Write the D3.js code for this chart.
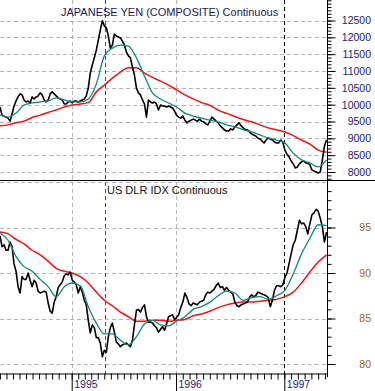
<!DOCTYPE html>
<html>
<head>
<meta charset="utf-8">
<script src="https://cdn.jsdelivr.net/npm/d3@7"></script>
<style>
  body { margin: 0; background: #fff; }
  svg { display: block; font-family: "Liberation Sans", Arial, sans-serif; }
</style>
</head>
<body>
<svg width="375" height="391"></svg>
<script>
// weekly closes, first week at startYear
const startYear = 1994.313;
const endYear = 1997.399;
const weekStep = 1 / 52;

const yenClose = [
  9930, 9690, 9660, 9630, 9600, 9510, 9720, 9960, 10110, 10230,
  10320, 10290, 10140, 10080, 10110, 10050, 10230, 10170, 10230, 10260,
  10350, 10290, 10140, 10080, 10140, 10320, 10380, 10320, 10260, 10200,
  10170, 10140, 10020, 10020, 10080, 10110, 10050, 10110, 10110, 10080,
  10110, 10140, 10170, 10260, 10500, 10940, 11180, 11390, 11620, 11920,
  12220, 12490, 12340, 12280, 12040, 11680, 11770, 12100, 12040, 12010,
  11980, 11890, 11770, 11560, 11450, 11390, 11120, 10880, 10500, 10350,
  10290, 10140, 10020, 9630, 10140, 10080, 10050, 10080, 10020, 9840,
  9990, 9960, 9960, 9930, 9960, 9930, 9900, 9810, 9690, 9630,
  9600, 9660, 9540, 9460, 9510, 9540, 9570, 9540, 9510, 9570,
  9510, 9490, 9430, 9400, 9510, 9630, 9570, 9510, 9460, 9370,
  9310, 9250, 9220, 9220, 9280, 9250, 9340, 9400, 9460, 9370,
  9310, 9250, 9250, 9190, 9130, 9100, 9070, 9010, 8980, 8920,
  8860, 8950, 9010, 8980, 8950, 8890, 8860, 8860, 8950, 8890,
  8650, 8530, 8450, 8330, 8240, 8120, 8150, 8240, 8300, 8330,
  8270, 8270, 8210, 8060, 8030, 8000, 7970, 8000, 8360, 8770,
  8950
];

const dxyClose = [
  94.1, 92.9, 93.1, 92.5, 92.5, 93.4, 92.9, 91.0, 90.2, 88.5,
  87.8, 89.6, 89.3, 89.3, 90.0, 89.2, 88.5, 89.2, 88.9, 88.0,
  87.8, 87.9, 88.0, 87.9, 86.7, 85.8, 85.6, 86.8, 87.4, 88.4,
  88.7, 89.0, 89.7, 89.9, 89.8, 90.1, 89.2, 89.0, 88.7, 87.8,
  88.5, 87.9, 87.0, 86.5, 84.8, 83.4, 84.3, 84.0, 82.9, 82.9,
  82.3, 80.8, 81.5, 81.3, 83.0, 84.0, 84.5, 83.5, 82.4, 82.2,
  81.9, 82.1, 82.2, 82.3, 82.1, 81.9, 82.6, 84.3, 85.9, 86.0,
  85.7, 86.2, 86.5, 85.2, 84.6, 84.6, 84.5, 84.2, 84.0, 83.5,
  83.8, 84.1, 83.7, 84.4, 85.2, 85.3, 85.4, 84.9, 85.1, 85.4,
  86.2, 86.8, 87.8, 87.3, 86.6, 86.4, 86.7, 86.6, 86.5, 86.8,
  86.9, 87.0, 87.6, 87.9, 87.8, 88.0, 88.2, 88.6, 88.9, 88.4,
  88.5, 88.1, 88.4, 88.1, 87.9, 87.7, 86.8, 86.4, 86.3, 86.5,
  86.6, 86.7, 86.8, 87.3, 87.6, 87.4, 87.5, 87.9, 87.8, 87.7,
  87.6, 87.5, 87.3, 86.3, 87.0, 88.1, 88.6, 88.6, 88.5, 88.7,
  89.5, 90.0, 91.0, 92.1, 93.1, 93.6, 94.7, 95.8, 95.4, 95.5,
  95.1, 94.3, 95.4, 96.4, 96.6, 97.0, 96.8, 96.0, 95.1, 93.4,
  94.5
];

// moving averages, read every 4 weeks
const maWeeks = d3.range(0, 161, 4);
const yenFast = [
  9690, 9630, 9750, 9990, 10050, 10080, 10110, 10200, 10140, 10080,
  10080, 10170, 10610, 11450, 11680, 11770, 11740, 11390, 10850, 10350,
  10170, 10050, 9930, 9750, 9660, 9600, 9540, 9490, 9400, 9340,
  9260, 9190, 9100, 9010, 8950, 8860, 8560, 8360, 8270, 8150,
  8360
];
const yenSlow = [
  9370, 9400, 9460, 9510, 9620, 9690, 9770, 9840, 9930, 9990,
  10020, 10060, 10380, 10580, 10790, 10970, 11100, 11100, 10940, 10810,
  10700, 10580, 10440, 10290, 10170, 10060, 9980, 9840, 9740, 9650,
  9560, 9490, 9400, 9310, 9250, 9190, 9080, 8950, 8830, 8650,
  8590
];
const dxyFast = [
  94.4, 93.6, 91.8, 90.7, 90.2, 89.3, 88.5, 87.4, 88.5, 88.9,
  88.6, 86.3, 84.5, 83.3, 83.3, 82.6, 82.1, 83.0, 84.4, 84.8,
  84.3, 84.2, 84.7, 85.2, 86.0, 86.3, 86.8, 87.5, 88.0, 87.8,
  87.0, 87.3, 87.4, 87.1, 87.5, 88.1, 89.9, 92.1, 93.8, 95.3,
  95.2
];
const dxySlow = [
  94.5, 94.3, 93.7, 93.2, 92.5, 92.0, 91.3, 90.5, 90.2, 90.0,
  89.6, 88.9, 87.9, 87.0, 86.4, 85.7, 85.2, 84.7, 84.7, 84.8,
  84.8, 84.7, 84.8, 84.9, 85.3, 85.5, 85.8, 86.2, 86.5, 86.7,
  86.8, 86.8, 86.9, 87.0, 87.1, 87.4, 87.9, 88.9, 90.1, 91.2,
  92.0
];

const years = [1995, 1996, 1997];
const yenTicks = [8000, 8500, 9000, 9500, 10000, 10500, 11000, 11500, 12000, 12500];
const dxyTicks = [80, 85, 90, 95];
const markerDates = [1995.32, 1997.0];

// define constants
const svg = d3.select("svg");
const plotRight = 327.5;
const sepY = 180.5;
const baseY = 373.5;

const colorFast = "#13877c";
const colorSlow = "#f01414";
const gridColor = "#b4b4b4";

// scales (the time axis is not even from year to year)
const x = d3.scaleLinear()
  .domain([startYear, 1995, 1996, 1997, endYear])
  .range([0, 71.7, 176, 284.3, plotRight]);
const yTop = d3.scaleLinear().domain([8000, 12500]).range([172, 20.5]);
const yBot = d3.scaleLinear().domain([80, 100]).range([364, 182]);

const weekDate = (w) => startYear + w * weekStep;

// clip areas for each panel
const defs = svg.append("defs");
defs.append("clipPath").attr("id", "clip-top")
  .append("rect").attr("x", 0).attr("y", 0).attr("width", plotRight).attr("height", sepY);
defs.append("clipPath").attr("id", "clip-bot")
  .append("rect").attr("x", 0).attr("y", sepY).attr("width", plotRight).attr("height", baseY - sepY);

// horizontal grid
const grid = svg.append("g")
  .attr("stroke", gridColor)
  .attr("stroke-dasharray", "4,3")
  .attr("shape-rendering", "crispEdges");

grid.selectAll(".gt")
  .data(yenTicks)
  .enter().append("line")
    .attr("x1", 0).attr("x2", plotRight)
    .attr("y1", (d) => Math.round(yTop(d)) + 0.5)
    .attr("y2", (d) => Math.round(yTop(d)) + 0.5);

grid.selectAll(".gb")
  .data(dxyTicks.concat([100]))
  .enter().append("line")
    .attr("x1", 0).attr("x2", plotRight)
    .attr("y1", (d) => Math.round(yBot(d)) + 0.5)
    .attr("y2", (d) => Math.round(yBot(d)) + 0.5);

// vertical grid at year starts
grid.selectAll(".gv")
  .data(years.slice(0, 2))
  .enter().append("line")
    .attr("x1", (d) => Math.round(x(d)) + 0.5)
    .attr("x2", (d) => Math.round(x(d)) + 0.5)
    .attr("y1", 0).attr("y2", baseY);

// marker lines
svg.selectAll(".marker")
  .data(markerDates)
  .enter().append("line")
    .attr("x1", (d) => Math.round(x(d)) + 0.5)
    .attr("x2", (d) => Math.round(x(d)) + 0.5)
    .attr("y1", 0).attr("y2", baseY)
    .attr("stroke", (d, i) => (i === 0 ? "#e01010" : "#000"))
    .attr("stroke-dasharray", "4,3")
    .attr("shape-rendering", "crispEdges");

// line drawers
const priceLine = (yScale) => d3.line()
  .x((d, i) => x(weekDate(i)))
  .y((d) => yScale(d));

const maLine = (yScale) => d3.line()
  .x((d, i) => x(weekDate(maWeeks[i])))
  .y((d) => yScale(d))
  .curve(d3.curveMonotoneX);

const drawPanel = (clipId, yScale, close, slow, fast) => {
  const g = svg.append("g").attr("clip-path", `url(#${clipId})`).attr("fill", "none");
  g.append("path")
    .attr("d", maLine(yScale)(slow))
    .attr("stroke", colorSlow)
    .attr("stroke-width", 1.5);
  g.append("path")
    .attr("d", priceLine(yScale)(close))
    .attr("stroke", "#000")
    .attr("stroke-width", 1.6)
    .attr("stroke-linejoin", "round");
  g.append("path")
    .attr("d", maLine(yScale)(fast))
    .attr("stroke", colorFast)
    .attr("stroke-width", 1.3);
};

drawPanel("clip-top", yTop, yenClose, yenSlow, yenFast);
drawPanel("clip-bot", yBot, dxyClose, dxySlow, dxyFast);

// panel separator
svg.append("line")
  .attr("x1", 0).attr("x2", 375)
  .attr("y1", sepY).attr("y2", sepY)
  .attr("stroke", "#000");

// titles
svg.append("text")
  .attr("x", 61).attr("y", 16)
  .attr("font-size", 11)
  .attr("fill", "#1a1a50")
  .text("JAPANESE YEN (COMPOSITE) Continuous");

svg.append("text")
  .attr("x", 107).attr("y", 194)
  .attr("font-size", 11)
  .attr("fill", "#111")
  .text("US DLR IDX Continuous");

// right axes
const styleAxis = (g, color) => {
  g.selectAll("line").attr("stroke", "#000");
  g.select(".domain").remove();
  g.selectAll("text")
    .attr("x", 43.5)
    .attr("text-anchor", "end")
    .attr("fill", color)
    .attr("font-size", 10.5)
    .attr("font-family", "Liberation Sans, Arial, sans-serif");
};

const topAxis = svg.append("g")
  .attr("transform", `translate(${plotRight},0)`)
  .call(d3.axisRight(yTop).tickValues(d3.range(7800, 13101, 100)).tickSize(4).tickFormat(""));
topAxis.call((g) => styleAxis(g, "#000"));
svg.append("g")
  .attr("transform", `translate(${plotRight},0)`)
  .call(d3.axisRight(yTop).tickValues(yenTicks).tickSize(8).tickFormat(d3.format("d")))
  .call((g) => styleAxis(g, "#1c1c6e"));

svg.append("g")
  .attr("transform", `translate(${plotRight},0)`)
  .call(d3.axisRight(yBot).tickValues(d3.range(80, 100, 1)).tickSize(4).tickFormat(""))
  .call((g) => styleAxis(g, "#000"));
svg.append("g")
  .attr("transform", `translate(${plotRight},0)`)
  .call(d3.axisRight(yBot).tickValues(dxyTicks).tickSize(8).tickFormat(d3.format("d")))
  .call((g) => styleAxis(g, "#a0661e"));

// vertical axis line
svg.append("line")
  .attr("x1", plotRight).attr("x2", plotRight)
  .attr("y1", 0).attr("y2", 377)
  .attr("stroke", "#000");

// bottom axis: minor ticks 16 per year
const minorDates = [];
[1994, 1995, 1996, 1997].forEach((yr) => {
  d3.range(16).forEach((k) => {
    const t = yr + k / 16;
    if (t >= startYear - 0.001 && t <= endYear) minorDates.push(t);
  });
});

svg.append("g")
  .attr("transform", `translate(0,${baseY})`)
  .call(d3.axisBottom(x).tickValues(minorDates).tickSize(6).tickFormat("").tickSizeOuter(0))
  .call((g) => {
    g.select(".domain").attr("stroke", "#000");
    g.selectAll("line").attr("stroke", "#000");
  });

svg.append("g")
  .attr("transform", `translate(0,${baseY})`)
  .call(d3.axisBottom(x).tickValues(years).tickSize(18).tickFormat(d3.format("d")).tickSizeOuter(0))
  .call((g) => {
    g.select(".domain").remove();
    g.selectAll("line").attr("stroke", "#000");
    g.selectAll("text")
      .attr("x", 2)
      .attr("y", 11)
      .attr("dy", "0.35em")
      .attr("text-anchor", "start")
      .attr("fill", "#1c1c6e")
      .attr("font-size", 10.5)
      .attr("font-family", "Liberation Sans, Arial, sans-serif");
  });
</script>
</body>
</html>
